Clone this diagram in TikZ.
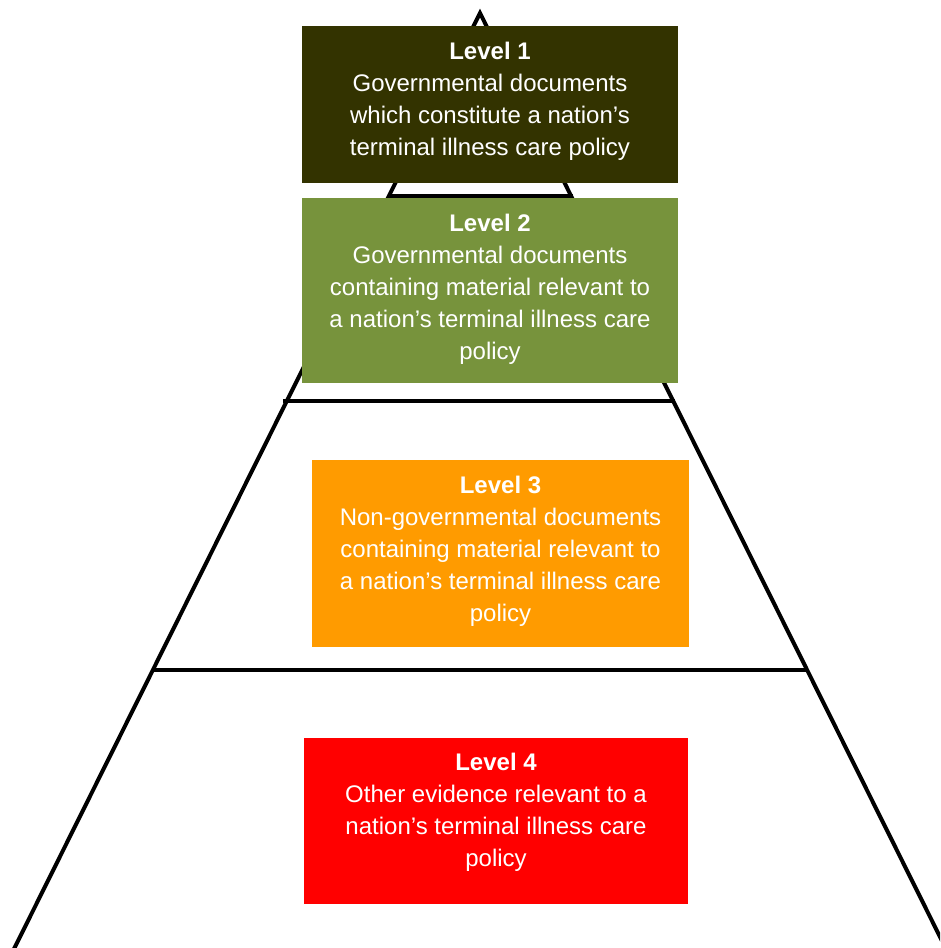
\documentclass[tikz,border=0pt]{standalone}
\usepackage{fontspec}
\setmainfont{Liberation Sans}
\definecolor{lvone}{RGB}{51,51,0}
\definecolor{lvtwo}{RGB}{119,147,60}
\definecolor{lvthree}{RGB}{255,155,0}
\definecolor{lvfour}{RGB}{255,0,0}
\begin{document}
\begin{tikzpicture}[x=1pt,y=-1pt,
  pline/.style={line width=4pt,black},
  lvbox/.style={draw=none,inner sep=0pt,outer sep=0pt,anchor=north west},
  lvtext/.style={text=white,align=center,anchor=north,inner sep=0pt,font=\fontsize{24}{32}\selectfont}]
\useasboundingbox (0,0) rectangle (940,948);
\clip (0,0) rectangle (940,948);
% pyramid
\coordinate (apex) at (480,13);
\coordinate (bl) at (2,973);
\coordinate (br) at (958,973);
\draw[pline,line join=miter] (bl) -- (apex) -- (br);
\coordinate (h1l) at (388,196);
\coordinate (h1r) at (573,196);
\coordinate (h2l) at (283,400.5);
\coordinate (h2r) at (675,400.5);
\coordinate (h3l) at (153,670);
\coordinate (h3r) at (808,670);
\draw[pline] (h1l) -- (h1r);
\draw[pline] (h2l) -- (h2r);
\draw[pline] (h3l) -- (h3r);
% boxes
\node[lvbox,fill=lvone,minimum width=376pt,minimum height=157pt] (b1) at (302,26) {};
\node[lvbox,fill=lvtwo,minimum width=376pt,minimum height=185pt] (b2) at (302,198) {};
\node[lvbox,fill=lvthree,minimum width=377pt,minimum height=187pt] (b3) at (312,460) {};
\node[lvbox,fill=lvfour,minimum width=384pt,minimum height=166pt] (b4) at (304,738) {};
% texts
\node[lvtext] (t1) at ([yshift=-16pt]b1.north) {\textbf{Level 1}\\Governmental documents\\which constitute a nation’s\\terminal illness care policy};
\node[lvtext] (t2) at ([yshift=-16pt]b2.north) {\textbf{Level 2}\\Governmental documents\\containing material relevant to\\a nation’s terminal illness care\\policy};
\node[lvtext] (t3) at ([yshift=-16pt]b3.north) {\textbf{Level 3}\\Non-governmental documents\\containing material relevant to\\a nation’s terminal illness care\\policy};
\node[lvtext] (t4) at ([yshift=-15pt]b4.north) {\textbf{Level 4}\\Other evidence relevant to a\\nation’s terminal illness care\\policy};
\end{tikzpicture}
\end{document}
